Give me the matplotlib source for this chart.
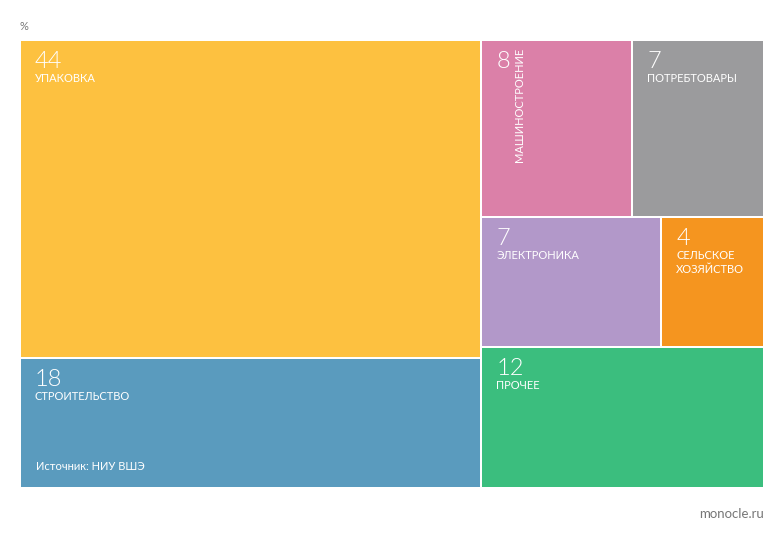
import matplotlib.pyplot as plt
import matplotlib.patches as patches

plt.rcParams['font.family'] = ['Lato', 'DejaVu Sans']

# Data (%)
left_names = ['УПАКОВКА', 'СТРОИТЕЛЬСТВО']
left_values = [44, 18]
left_colors = ['#FDC140', '#5A9BBE']

right_rows_names = [['МАШИНОСТРОЕНИЕ', 'ПОТРЕБТОВАРЫ'],
                    ['ЭЛЕКТРОНИКА', 'СЕЛЬСКОЕ\nХОЗЯЙСТВО'],
                    ['ПРОЧЕЕ']]
right_rows_values = [[8, 7], [7, 4], [12]]
right_rows_colors = [['#DB80A8', '#9B9B9D'], ['#B298C9', '#F5951F'], ['#3BBE7E']]

W, H = 784, 539
fig = plt.figure(figsize=(W / 100, H / 100), dpi=100)
ax = fig.add_axes([0, 0, 1, 1])
ax.set_xlim(0, W)
ax.set_ylim(H, 0)
ax.axis('off')

# treemap area in pixels
X0, Y0, X1, Y1 = 20, 40, 764, 488
gap = 1.0
total = sum(left_values) + sum(sum(r) for r in right_rows_values)


def cell(x, y, w, h, color, value, name, vertical=False):
    ax.add_patch(patches.Rectangle((x + gap, y + gap), w - 2 * gap, h - 2 * gap,
                                   facecolor=color, edgecolor='none'))
    ax.text(x + 15, y + 11, str(value), color='white', fontsize=17,
            fontweight=300, ha='left', va='top')
    if vertical:
        ax.text(x + 38, y + 8, name, color='white', fontsize=8, rotation=90,
                ha='center', va='top')
    else:
        ax.text(x + 15, y + 33, name, color='white', fontsize=8,
                ha='left', va='top', linespacing=1.3)


# left column
left_w = (X1 - X0) * sum(left_values) / total
y = Y0
for name, v, c in zip(left_names, left_values, left_colors):
    h = (Y1 - Y0) * v / sum(left_values)
    cell(X0, y, left_w, h, c, v, name)
    y += h

# right column
right_total = sum(sum(r) for r in right_rows_values)
xr = X0 + left_w
wr = X1 - xr
y = Y0
for names, vals, cols in zip(right_rows_names, right_rows_values, right_rows_colors):
    h = (Y1 - Y0) * sum(vals) / right_total
    x = xr
    for name, v, c in zip(names, vals, cols):
        w = wr * v / sum(vals)
        cell(x, y, w, h, c, v, name, vertical=(name == 'МАШИНОСТРОЕНИЕ'))
        x += w
    y += h

ax.text(36, 466, 'Источник: НИУ ВШЭ', color='white', fontsize=8,
        ha='left', va='center')
ax.text(20, 26, '%', color='#777777', fontsize=8, ha='left', va='center')
ax.text(764, 514, 'monocle.ru', color='#777777', fontsize=9.5,
        ha='right', va='center')

fig.savefig('out.png', dpi=100)
